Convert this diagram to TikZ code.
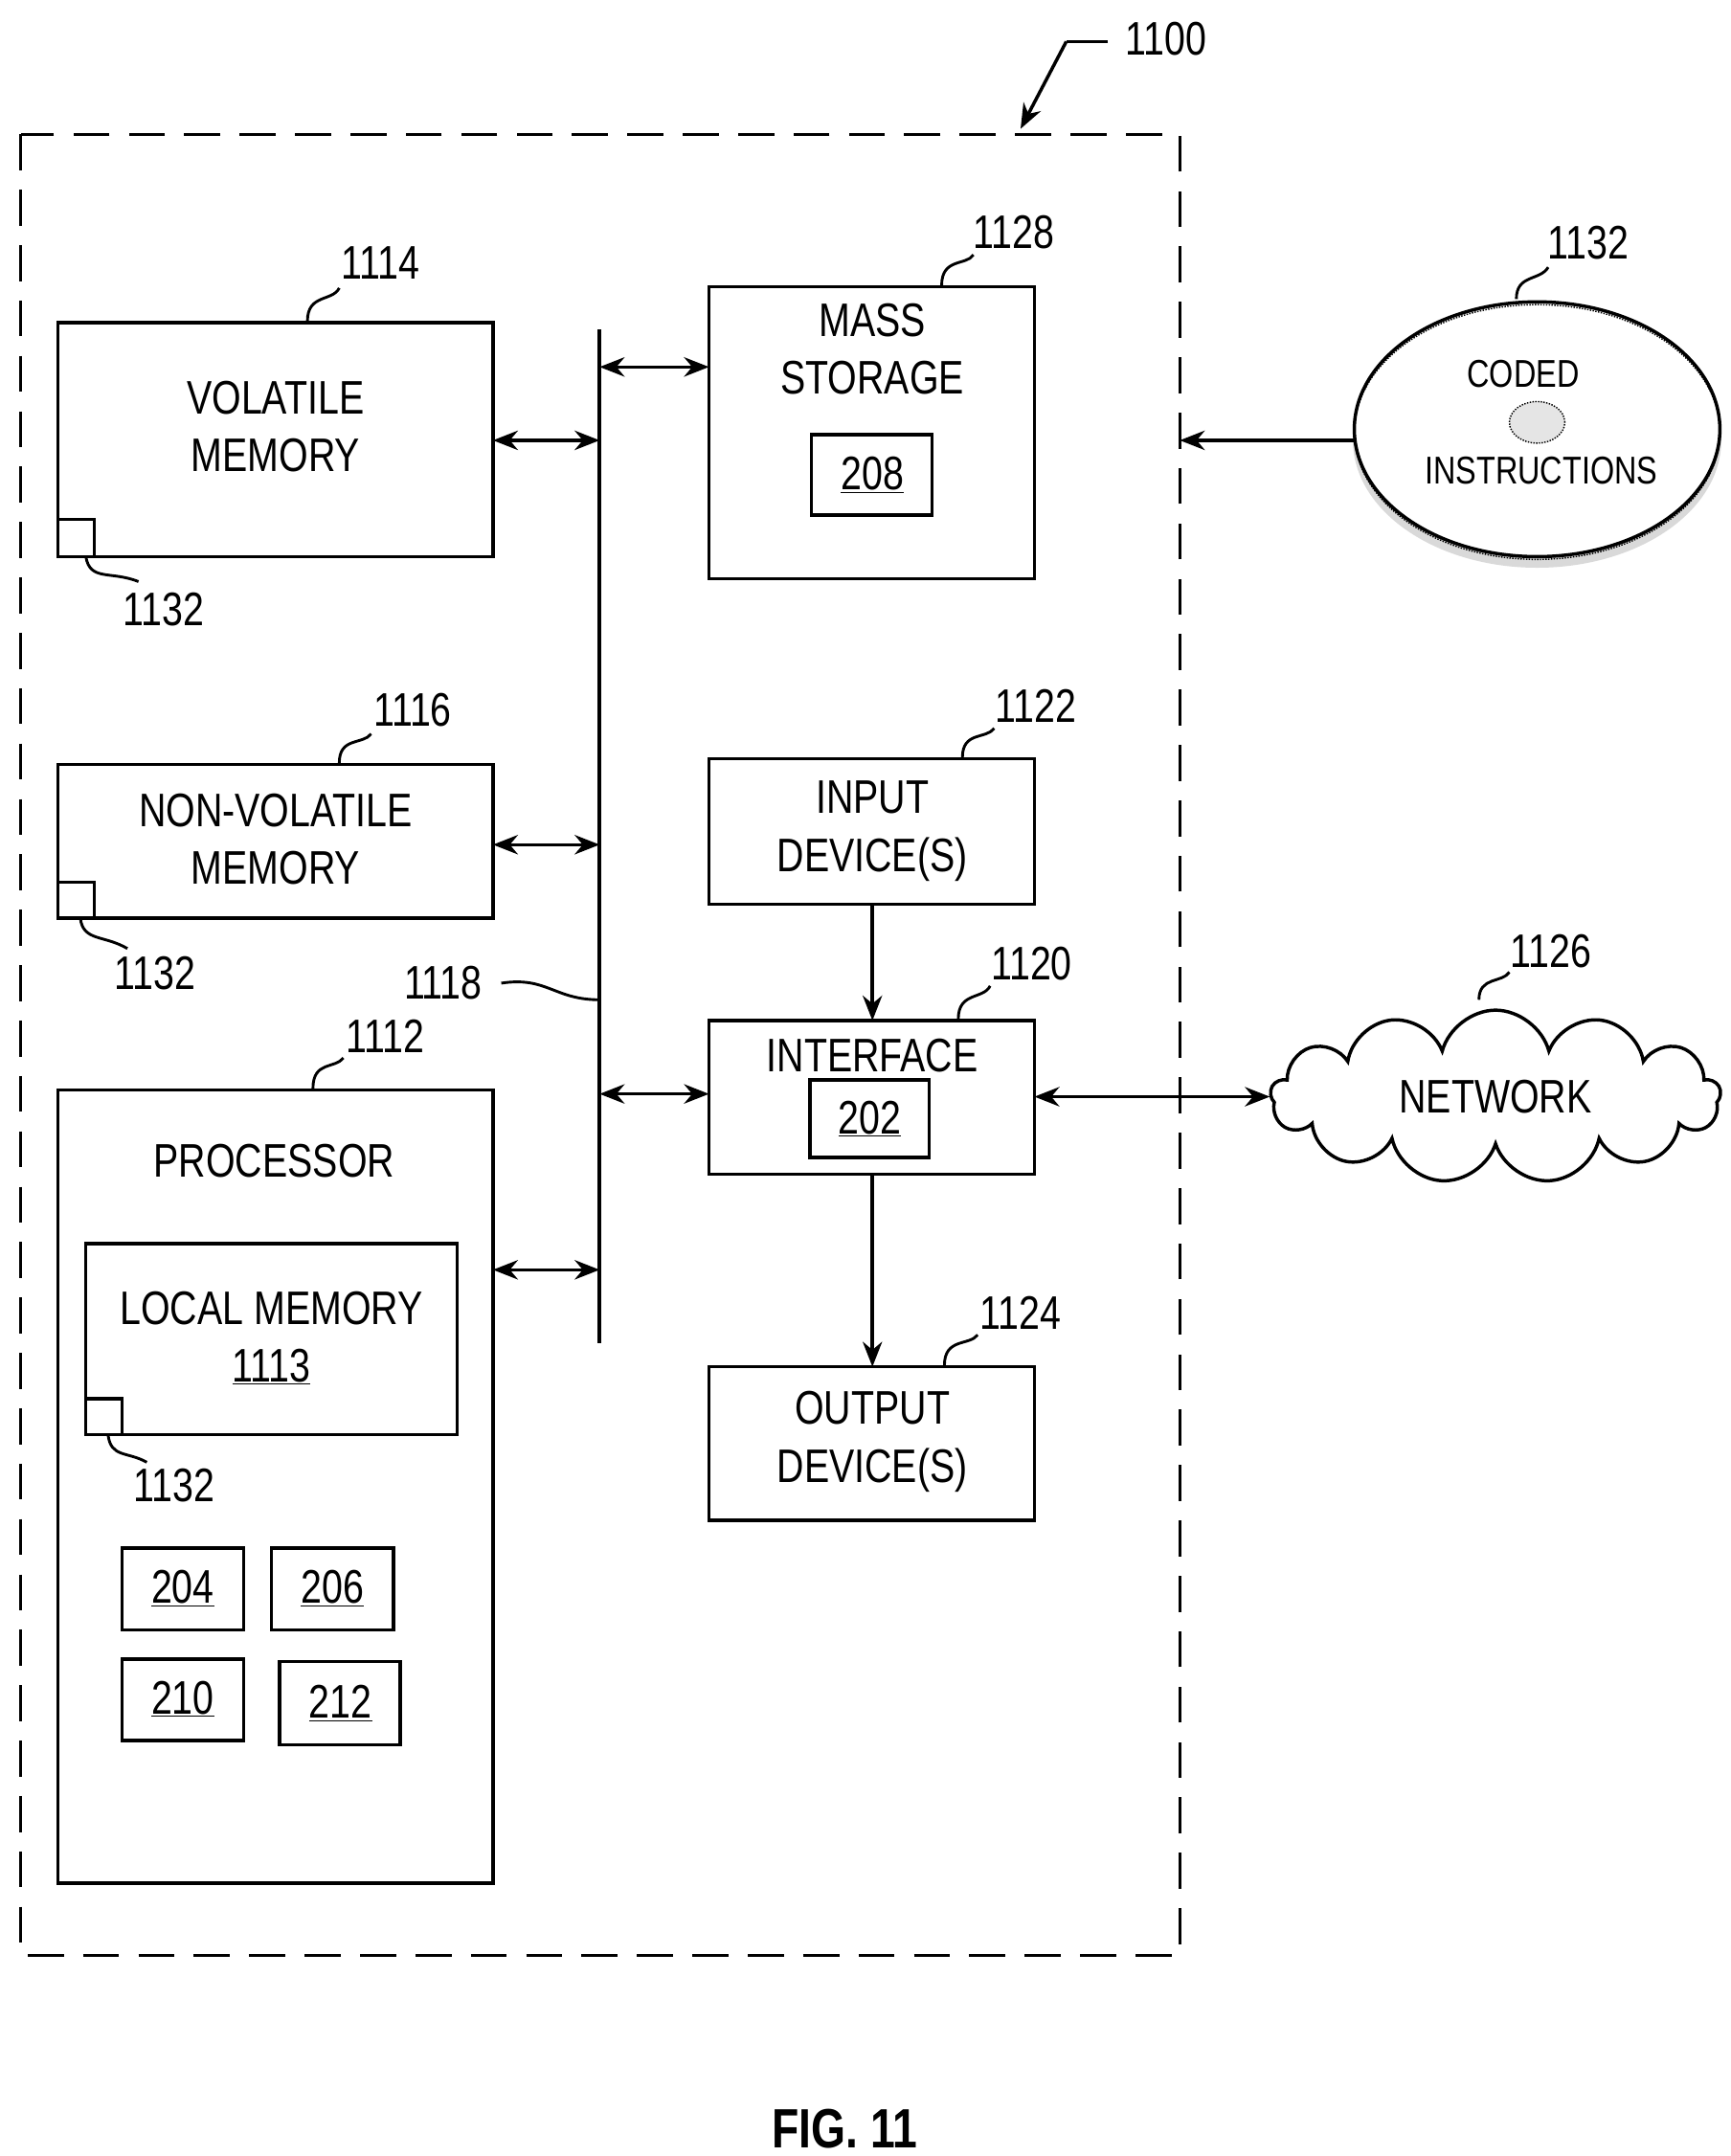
\documentclass[tikz,border=0pt]{standalone}
\usepackage{fontspec}
\setmainfont[FakeStretch=0.8]{Liberation Sans}
\usetikzlibrary{arrows.meta,shapes.symbols,shapes.geometric}
\begin{document}
\begin{tikzpicture}[x=1pt,y=-1pt,
 every node/.style={font=\fontsize{34}{38}\selectfont},
 box/.style={draw,line width=2.4pt},
 sbox/.style={draw,line width=2.4pt},
 ln/.style={line width=2pt},
 da/.style={line width=2.4pt,{Stealth[length=18pt,width=14pt]}-{Stealth[length=18pt,width=14pt]}},
 sa/.style={line width=2.4pt,-{Stealth[length=18pt,width=14pt]}},
 lbl/.style={inner sep=0pt}]
\useasboundingbox (0,0) rectangle (1250,1557);
% outer
\draw[line width=2.4pt,dash pattern=on 26pt off 14pt] (15,97) rectangle (852,1412);
\node[lbl] (l1100) at (842,28) {1100};
\coordinate (c1100a) at (800,30);\coordinate (c1100b) at (770,30);\coordinate (c1100c) at (737,93);
\draw[ln] (c1100a)--(c1100b);\draw[sa] (c1100b)--(c1100c);
% volatile
\draw[box] (42,233) rectangle (356,402); \node[lbl,align=center] (vol) at (199,308) {VOLATILE\\[4pt]MEMORY};
\draw[sbox] (42,375) rectangle (68,402);
\node[lbl] (a1) at (118,440) {1132}; \draw[ln] (62,402) .. controls (65,420) and (80,412) .. (100,420);
\node[lbl] (a2) at (275,190) {1114}; \draw[ln] (222,232) .. controls (222,212) and (240,218) .. (245,208);
% nonvol
\draw[box] (42,552) rectangle (356,663); \node[lbl,align=center] (nv) at (199,606) {NON-VOLATILE\\[4pt]MEMORY};
\draw[sbox] (42,637) rectangle (68,663);
\node[lbl] (a3) at (112,703) {1132}; \draw[ln] (58,663) .. controls (60,680) and (75,675) .. (92,685);
\node[lbl] (a4) at (298,513) {1116}; \draw[ln] (245,551) .. controls (245,532) and (262,538) .. (268,530);
% processor
\draw[box] (42,787) rectangle (356,1360); \node[lbl] (pr) at (198,838) {PROCESSOR};
\node[lbl] (a5) at (278,748) {1112}; \draw[ln] (226,786) .. controls (226,766) and (242,772) .. (248,764);
\draw[box] (62,898) rectangle (330,1036); \node[lbl] (lm) at (196,945) {LOCAL MEMORY}; \node[lbl] (lm2) at (196,987) {\underline{1113}};
\draw[sbox] (62,1010) rectangle (88,1036);
\node[lbl] (a6) at (126,1073) {1132}; \draw[ln] (78,1036) .. controls (80,1053) and (92,1048) .. (106,1056);
\draw[box] (88,1118) rectangle (176,1177); \node[lbl] at (132,1147) {\underline{204}};
\draw[box] (196,1118) rectangle (284,1177); \node[lbl] at (240,1147) {\underline{206}};
\draw[box] (88,1198) rectangle (176,1257); \node[lbl] at (132,1227) {\underline{210}};
\draw[box] (202,1200) rectangle (289,1260); \node[lbl] at (246,1230) {\underline{212}};
% bus
\draw[line width=3pt] (433,238) -- (433,970);
\node[lbl] (a7) at (320,710) {1118}; \draw[ln] (362,710) .. controls (395,705) and (400,722) .. (433,722);
\draw[da] (356,318) -- (433,318);
\draw[da] (356,610) -- (433,610);
\draw[da] (356,917) -- (433,917);
% mass storage
\draw[box] (512,207) rectangle (747,418); \node[lbl,align=center] (ms) at (630,252) {MASS\\[4pt]STORAGE};
\draw[box] (586,314) rectangle (673,372); \node[lbl] at (630,343) {\underline{208}};
\node[lbl] (a8) at (732,168) {1128}; \draw[ln] (680,206) .. controls (680,186) and (698,192) .. (703,184);
\draw[da] (433,265) -- (512,265);
% input
\draw[box] (512,548) rectangle (747,653); \node[lbl,align=center] (in) at (630,600) {INPUT\\[4pt]DEVICE(S)};
\node[lbl] (a9) at (748,510) {1122}; \draw[ln] (695,547) .. controls (695,528) and (712,534) .. (718,526);
% interface
\draw[box] (512,737) rectangle (747,848); \node[lbl] (if) at (630,762) {INTERFACE};
\draw[box] (585,780) rectangle (671,836); \node[lbl] at (628,808) {\underline{202}};
\node[lbl] (a10) at (745,696) {1120}; \draw[ln] (692,736) .. controls (692,716) and (710,722) .. (715,712);
\draw[da] (433,790) -- (512,790);
\draw[sa] (630,653) -- (630,737);
% output
\draw[box] (512,987) rectangle (747,1098); \node[lbl,align=center] (out) at (630,1041) {OUTPUT\\[4pt]DEVICE(S)};
\node[lbl] (a11) at (737,948) {1124}; \draw[ln] (682,986) .. controls (682,966) and (700,972) .. (706,964);
\draw[sa] (630,848) -- (630,987);
% network
\node[cloud,draw,line width=2.4pt,cloud puffs=13,aspect=2.6,minimum width=325pt,minimum height=125pt,inner sep=0pt] (net) at (1080,792) {NETWORK};
\draw[da] (747,792) -- (917,792);
\node[lbl] (a12) at (1120,687) {1126}; \draw[ln] (1068,722) .. controls (1068,705) and (1085,710) .. (1090,702);
% disk
\fill[gray!30] (1110,318) ellipse (133pt and 92pt);
\draw[line width=2.4pt,fill=white] (1110,310) ellipse (132pt and 92pt);
\draw[line width=1pt,densely dotted] (1110,312) ellipse (132pt and 92pt);
\draw[line width=1pt,densely dotted,fill=gray!20] (1110,305) ellipse (20pt and 15pt);
\node[lbl,font=\fontsize{28}{30}\selectfont] (cd) at (1100,270) {CODED};
\node[lbl,font=\fontsize{28}{30}\selectfont] (ci) at (1113,340) {INSTRUCTIONS};
\draw[sa] (978,318) -- (852,318);
\node[lbl] (a13) at (1147,175) {1132}; \draw[ln] (1095,216) .. controls (1095,198) and (1112,203) .. (1118,193);
% fig
\node[lbl,font=\fontsize{40}{44}\selectfont\bfseries] (fig) at (610,1537) {FIG. 11};
\end{tikzpicture}
\end{document}
